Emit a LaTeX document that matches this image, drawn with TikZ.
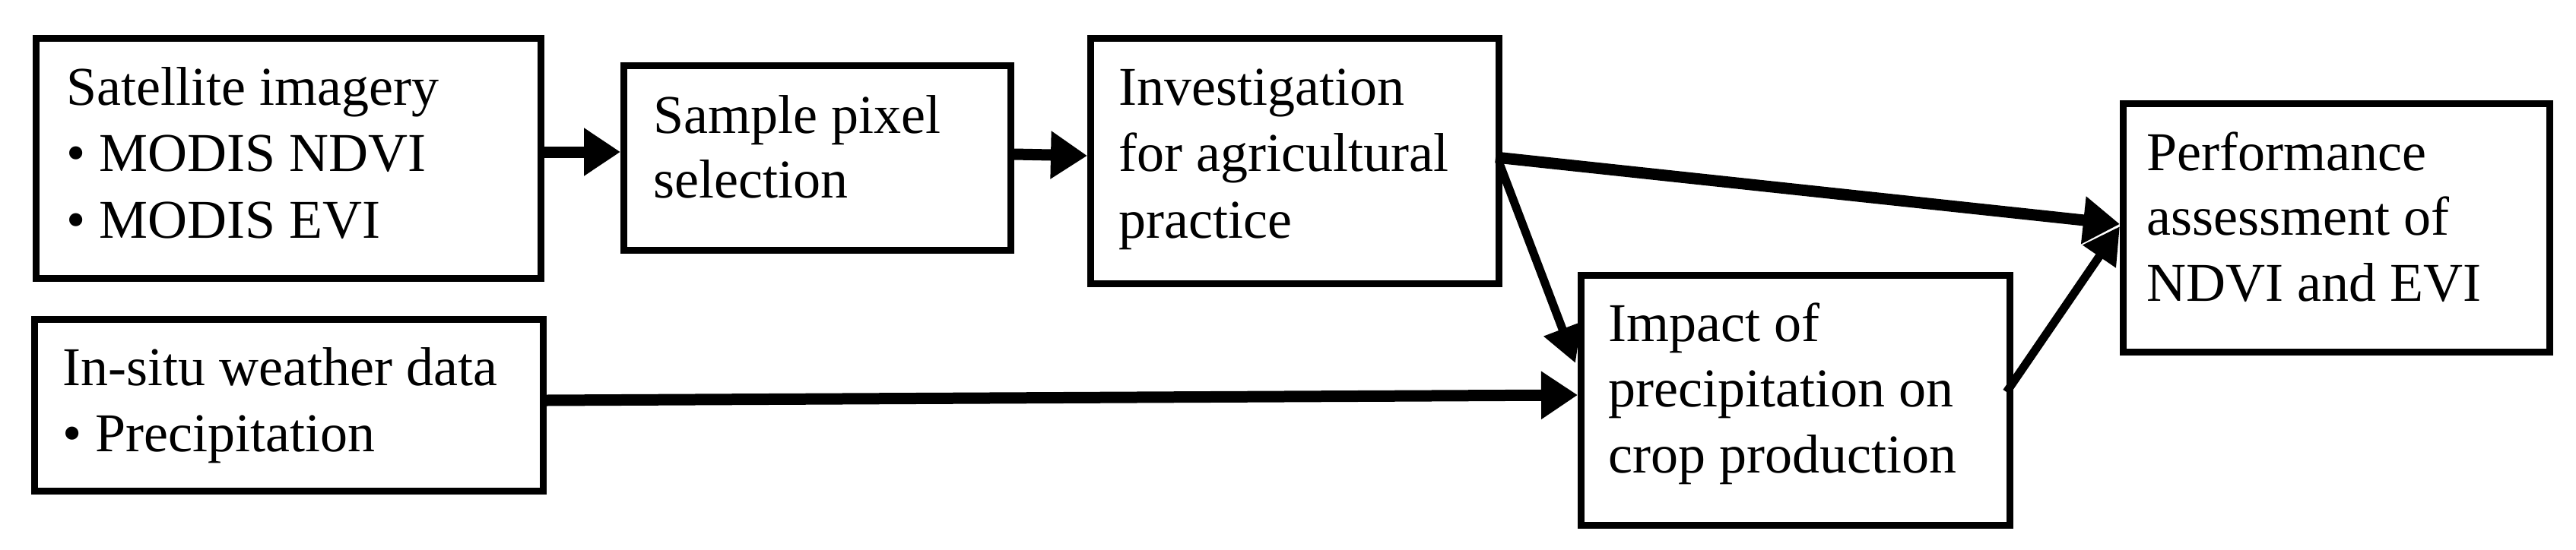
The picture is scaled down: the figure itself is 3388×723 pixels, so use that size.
\documentclass[tikz,border=0pt]{standalone}
\usepackage{fontspec}
\setmainfont{Liberation Serif}
\usetikzlibrary{arrows.meta}
\begin{document}
\begin{tikzpicture}[x=1pt,y=-1pt,
  box/.style={draw,line width=9pt,anchor=north west,inner sep=0pt},
  txt/.style={anchor=base west,inner sep=0pt,font=\fontsize{72}{87}\selectfont},
  arr/.style={line width=15pt,-{Triangle[length=48pt,width=60pt]}},
  arrt/.style={line width=11pt,-{Triangle[length=48pt,width=50pt]}}]
\useasboundingbox (0,0) rectangle (3388,723);
\node[box,minimum width=664pt,minimum height=316pt] (sat) at (43,46) {};
\node[box,minimum width=509pt,minimum height=243pt] (smp) at (816,82) {};
\node[box,minimum width=537pt,minimum height=323pt] (inv) at (1430,46) {};
\node[box,minimum width=669pt,minimum height=226pt] (ins) at (41,416) {};
\node[box,minimum width=564pt,minimum height=329pt] (imp) at (2075,358) {};
\node[box,minimum width=561pt,minimum height=327pt] (prf) at (2788,132) {};
\node[txt] (t1a) at (87,138) {Satellite imagery};
\node[txt] (t1b) at (87,225) {\textbullet\ MODIS NDVI};
\node[txt] (t1c) at (87,313) {\textbullet\ MODIS EVI};
\node[txt] (t2a) at (859,175) {Sample pixel};
\node[txt] (t2b) at (859,260) {selection};
\node[txt] (t3a) at (1471,138) {Investigation};
\node[txt] (t3b) at (1471,225) {for agricultural};
\node[txt] (t3c) at (1471,313) {practice};
\node[txt] (t4a) at (82,507) {In-situ weather data};
\node[txt] (t4b) at (82,594) {\textbullet\ Precipitation};
\node[txt] (t5a) at (2115,449) {Impact of};
\node[txt] (t5b) at (2115,535) {precipitation on};
\node[txt] (t5c) at (2115,622) {crop production};
\node[txt] (t6a) at (2823,224) {Performance};
\node[txt] (t6b) at (2823,309) {assessment of};
\node[txt] (t6c) at (2823,396) {NDVI and EVI};
\coordinate (a1) at (sat.east|-0,200);
\coordinate (a2) at (smp.west|-0,200);
\draw[arr] (a1) -- (a2);
\coordinate (b1) at (smp.east|-0,203);
\coordinate (b2) at (inv.west|-0,205);
\draw[arr] (b1) -- (b2);
\coordinate (c1) at (1967,207);
\coordinate (c2) at (2788,295);
\draw[arr] (c1) -- (c2);
\coordinate (d1) at (1972,215);
\coordinate (d2) at (2072,478);
\draw[arrt] (d1) -- (d2);
\coordinate (e1) at (ins.east|-0,527);
\coordinate (e2) at (imp.west|-0,520);
\draw[arr] (e1) -- (e2);
\coordinate (f1) at (2639,516);
\coordinate (f2) at (2788,298);
\draw[arrt] (f1) -- (f2);
\end{tikzpicture}
\end{document}
